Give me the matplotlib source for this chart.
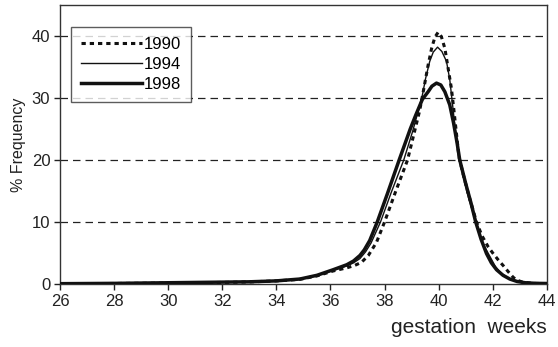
import matplotlib
matplotlib.use("Agg")
import matplotlib.pyplot as plt

plt.rcParams['font.family'] = ['Liberation Sans', 'DejaVu Sans']

# 1990 series (gestation week, % frequency)
weeks_1990 = [26, 28, 30, 32, 33, 34, 34.87, 35.5, 36.1, 36.6, 36.9, 37.15, 37.4, 37.7, 38.0, 38.4,
              38.85, 39.12, 39.3, 39.43, 39.61, 39.74, 39.86, 39.98, 40.1, 40.23, 40.35, 40.47,
              40.56, 40.65, 40.75, 40.9, 41.1, 41.4, 41.6, 41.83, 42.0, 42.2, 42.4, 42.57,
              42.75, 42.88, 43.1, 43.5, 44]
f1990 = [0.05, 0.08, 0.15, 0.25, 0.33, 0.5, 0.75, 1.3, 2.1, 2.6, 3.0, 3.5, 4.6, 6.7, 10.0, 14.8,
         20.0, 24.8, 28.0, 31.0, 35.3, 38.0, 39.8, 40.6, 39.9, 38.0, 34.8, 31.6,
         28.2, 24.6, 20.5, 17.8, 14.5, 10.0, 7.8, 6.0, 5.0, 3.9, 2.9, 2.0,
         1.1, 0.65, 0.3, 0.1, 0.05]

# 1994 series
weeks_1994 = [26, 28, 30, 32, 33, 34, 34.87, 35.5, 36.1, 36.6, 36.85, 37.09, 37.3, 37.5, 37.85,
              38.25, 38.71, 39.03, 39.22, 39.4, 39.52, 39.67, 39.8, 39.96, 40.12, 40.29, 40.41,
              40.5, 40.6, 40.73, 40.9, 41.1, 41.37, 41.6, 41.9, 42.1, 42.32, 42.6, 42.9, 43.2,
              43.6, 44]
f1994 = [0.05, 0.1, 0.18, 0.3, 0.35, 0.5, 0.78, 1.35, 2.2, 2.9, 3.4, 4.1, 5.2, 6.6, 10.0,
         14.8, 20.0, 24.5, 27.5, 30.5, 33.2, 35.9, 37.4, 38.2, 37.5, 35.9, 33.0,
         29.5, 25.5, 20.5, 17.5, 14.0, 10.0, 6.8, 4.4, 2.8, 1.7, 0.9, 0.4, 0.2,
         0.1, 0.05]

# 1998 series
weeks_1998 = [26, 28, 30, 32, 33, 34, 34.87, 35.5, 36.1, 36.6, 36.85, 37.09, 37.25, 37.45, 37.73,
              38.1, 38.54, 38.95, 39.15, 39.4, 39.61, 39.75, 39.92, 40.08, 40.23, 40.41, 40.55,
              40.68, 40.78, 41.0, 41.2, 41.37, 41.57, 41.77, 41.95, 42.14, 42.38, 42.63, 42.9,
              43.2, 43.6, 44]
f1998 = [0.05, 0.1, 0.2, 0.3, 0.35, 0.5, 0.8, 1.4, 2.3, 3.1, 3.7, 4.6, 5.5, 7.0, 10.0,
         14.5, 20.0, 25.0, 27.2, 29.8, 31.0, 31.9, 32.4, 32.1, 31.0, 28.9, 26.0,
         22.8, 20.0, 16.2, 13.0, 10.0, 7.2, 4.9, 3.4, 2.3, 1.4, 0.8, 0.4,
         0.2, 0.1, 0.08]

xticks = [26, 28, 30, 32, 34, 36, 38, 40, 42, 44]
yticks = [0, 10, 20, 30, 40]

fig = plt.figure(figsize=(5.58, 3.47), dpi=100)
ax = fig.add_axes([0.1075, 0.1816, 0.8725, 0.804])

for y in yticks[1:]:
    ax.axhline(y, color='#222222', lw=0.9, ls=(0, (6, 4)), zorder=1)

ax.plot(weeks_1990, f1990, color='#111111', lw=2.2, ls=(0, (1.4, 1.3)), label='1990', zorder=3)
ax.plot(weeks_1994, f1994, color='#111111', lw=1.0, label='1994', zorder=3,
        solid_joinstyle='round')
ax.plot(weeks_1998, f1998, color='#111111', lw=2.5, label='1998', zorder=3,
        solid_joinstyle='round')

ax.set_xlim(26, 44)
ax.set_ylim(0, 45)
ax.set_xticks(xticks)
ax.set_yticks(yticks)
ax.tick_params(direction='out', length=4, width=1, labelsize=12, colors='#222222', pad=3)
for s in ax.spines.values():
    s.set_color('#333333')
    s.set_linewidth(1.0)

ax.set_ylabel('% Frequency', fontsize=11.5, color='#222222', labelpad=4)
fig.text(0.98, 0.055, 'gestation  weeks', fontsize=15, ha='right', va='center', color='#222222')

leg = ax.legend(loc='upper left', bbox_to_anchor=(0.0226, 0.922), fontsize=12, frameon=True,
                fancybox=False, edgecolor='#333333', handlelength=3.65, handletextpad=0.12,
                borderpad=0.6, labelspacing=0.3, borderaxespad=0)
leg.get_frame().set_linewidth(1.0)
leg.set_zorder(5)

fig.savefig('out.png', dpi=100)
